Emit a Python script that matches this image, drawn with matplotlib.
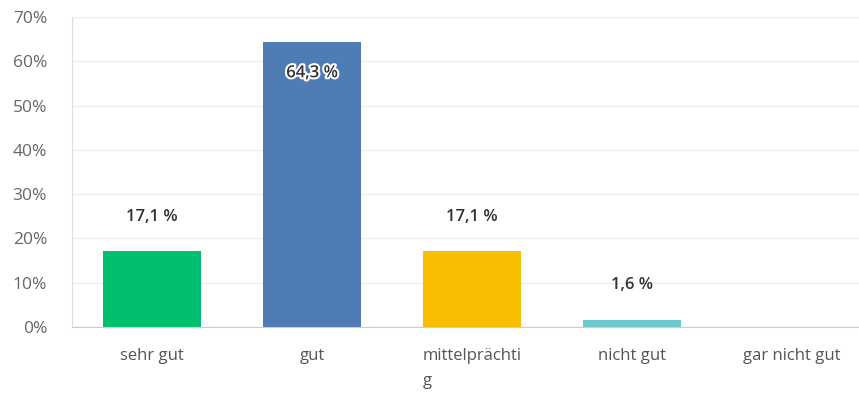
import matplotlib
matplotlib.use("Agg")
import matplotlib.pyplot as plt
import matplotlib.patheffects as pe

categories = ["sehr gut", "gut", "mittelprächti\ng", "nicht gut", "gar nicht gut"]
values = [17.1, 64.3, 17.1, 1.6, 0.0]
labels = ["17,1 %", "64,3 %", "17,1 %", "1,6 %", ""]
colors = ["#00BF6F", "#507CB6", "#F9BE00", "#6BC8CD", "#996DB0"]
yticks = [0, 10, 20, 30, 40, 50, 60, 70]

plt.rcParams['font.family'] = ['Open Sans', 'DejaVu Sans']

W, H = 859, 394
fig = plt.figure(figsize=(W / 100, H / 100), dpi=100)
left, right, top, bottom = 72, 872, 17, 327
ax = fig.add_axes([left / W, (H - bottom) / H, (right - left) / W, (bottom - top) / H])

x = list(range(len(categories)))
ax.bar(x, values, width=0.61, color=colors, zorder=3)

ax.set_xlim(-0.5, 4.5)
ax.set_ylim(0, 70)
ax.set_yticks(yticks)
ax.set_yticklabels([f"{t}%" for t in yticks], fontsize=12.5, color="#666666")
ax.set_xticks(x)
ax.set_xticklabels(categories, fontsize=12, color="#555555",
                   multialignment="left", linespacing=1.8)
ax.tick_params(axis="both", length=0)
ax.tick_params(axis="y", pad=18)
ax.tick_params(axis="x", pad=15)

ax.grid(axis="y", color="#eeeeee", linewidth=1, zorder=0)
for s in ["top", "right"]:
    ax.spines[s].set_visible(False)
ax.spines["left"].set_color("#dddddd")
ax.spines["bottom"].set_color("#cccccc")
ax.spines["bottom"].set_zorder(4)

for xi, v, lab in zip(x, values, labels):
    if not lab:
        continue
    if v > 60:
        y = v - 7
        ax.text(xi, y, lab, ha="center", va="center", fontsize=12, fontweight="semibold",
                color="#333333", zorder=5,
                path_effects=[pe.withStroke(linewidth=3, foreground="white")])
    else:
        ax.text(xi, v + 7.8, lab, ha="center", va="center", fontsize=12,
                fontweight="semibold", color="#333333", zorder=5)

fig.savefig("out.png", dpi=100)
